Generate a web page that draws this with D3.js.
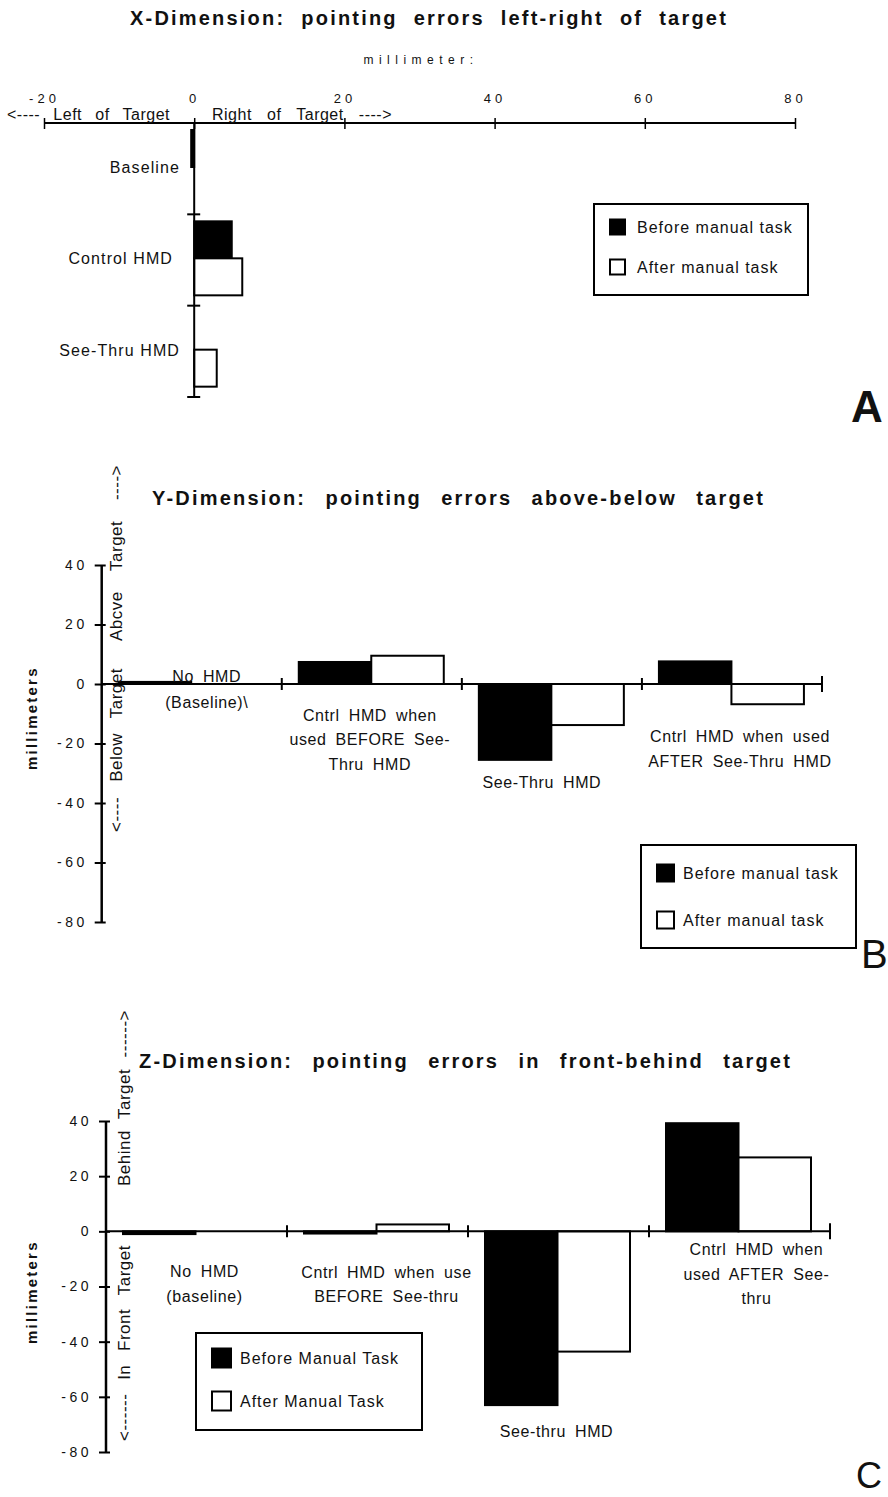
<!DOCTYPE html>
<html>
<head>
<meta charset="utf-8">
<script src="https://cdn.jsdelivr.net/npm/d3@7"></script>
<style>
  body { margin: 0; background: #fff; }
  svg text { font-family: "Liberation Sans", Arial, sans-serif; fill: #111; }
</style>
</head>
<body>
<div id="chart"></div>
<script>
// ---- data: panel A (x-dimension) ----
const xCategories = ["Baseline", "Control HMD", "See-Thru HMD"];
const xBefore = [-0.4, 5.0, 0];
const xAfter  = [0, 6.4, 3.0];
const xTicks  = [-20, 0, 20, 40, 60, 80];

// ---- data: panel B (y-dimension) ----
const yCategories = ["No HMD", "Cntrl before", "See-Thru", "Cntrl after"];
const yLabels = [
  ["No HMD", "(Baseline)\\"],
  ["Cntrl HMD when", "used BEFORE See-", "Thru HMD"],
  ["See-Thru HMD"],
  ["Cntrl HMD when used", "AFTER See-Thru HMD"]
];
const yBefore = [0.7, 7.4, -25.5, 7.6];
const yAfter  = [0, 9.5, -13.8, -6.8];

// ---- data: panel C (z-dimension) ----
const zCategories = ["No HMD", "Cntrl before", "See-thru", "Cntrl after"];
const zLabels = [
  ["No HMD", "(baseline)"],
  ["Cntrl HMD when use", "BEFORE See-thru"],
  ["See-thru HMD"],
  ["Cntrl HMD when", "used AFTER See-", "thru"]
];
const zBefore = [-1.0, -0.8, -63, 39.2];
const zAfter  = [0, 2.5, -43.6, 26.8];

const vTicks = [40, 20, 0, -20, -40, -60, -80];
const series = ["before", "after"];
const legendAB = ["Before manual task", "After manual task"];
const legendC  = ["Before Manual Task", "After Manual Task"];

const fills = { before: "#000", after: "#fff" };

const svg = d3.select("#chart").append("svg")
  .attr("width", 888).attr("height", 1497);

const fmt = d => String(d);

function rows(before, after) {
  return series.map(s => (s === "before" ? before : after));
}

// widen the gaps between words so the text spans len px
function fitWords(sel, len) {
  const n = (sel.text().match(/ /g) || []).length;
  const natural = sel.node().getComputedTextLength();
  if (n > 0 && natural < len) sel.style("word-spacing", ((len - natural) / n) + "px");
  sel.attr("textLength", len).attr("lengthAdjust", "spacing");
}

function legend(g, x, y, w, h, items, sw, rowYs, textX, fs) {
  g.append("rect").attr("x", x).attr("y", y).attr("width", w).attr("height", h)
    .attr("fill", "#fff").attr("stroke", "#000").attr("stroke-width", 2);
  items.forEach((t, i) => {
    g.append("rect").attr("x", x + 16).attr("y", rowYs[i] - sw / 2)
      .attr("width", sw).attr("height", sw)
      .attr("fill", fills[series[i]]).attr("stroke", "#000").attr("stroke-width", 2);
    g.append("text").attr("x", textX).attr("y", rowYs[i] + fs * 0.36)
      .style("font-size", fs + "px").style("letter-spacing", "1px")
      .text(t);
  });
}

function vText(g, x, y, t, len, opts = {}) {
  const txt = g.append("text")
    .attr("transform", `translate(${x},${y}) rotate(-90)`)
    .attr("text-anchor", opts.anchor || "start")
    .style("font-size", (opts.size || 17) + "px")
    .style("font-weight", opts.bold ? "bold" : "normal")
    .style("letter-spacing", opts.bold ? "2.5px" : "0.5px")
    .text(t);
  fitWords(txt, len);
}

function title(g, x, y, t, len, anchor) {
  const txt = g.append("text").attr("x", x).attr("y", y).attr("text-anchor", anchor)
    .style("font-size", "20px").style("font-weight", "bold")
    .style("letter-spacing", "2.2px")
    .text(t);
  fitWords(txt, len);
}

// ================= Panel A =================
const gA = svg.append("g");

title(gA, 429, 25, "X-Dimension: pointing errors left-right of target", 598, "middle");

gA.append("text").attr("x", 421).attr("y", 64).attr("text-anchor", "middle")
  .style("font-size", "12px").style("letter-spacing", "5.5px")
  .text("millimeter:");

const ax = d3.scaleLinear().domain([-20, 80]).range([44, 795]);
const ay = d3.scaleBand().domain(xCategories).range([123, 397]);
const ay1 = d3.scaleBand().domain(series).range([7, 81]);

const aVals = rows(xBefore, xAfter);
series.forEach((s, si) => {
  gA.append("g").selectAll("rect")
    .data(xCategories.map((c, i) => ({ c, v: aVals[si][i] })).filter(d => d.v !== 0))
    .join("rect")
    .attr("x", d => ax(Math.min(0, d.v)))
    .attr("y", d => ay(d.c) + ay1(s))
    .attr("width", d => Math.abs(ax(d.v) - ax(0)))
    .attr("height", ay1.bandwidth())
    .attr("fill", fills[s]).attr("stroke", "#000").attr("stroke-width", 2);
});

const axTop = gA.append("g").attr("transform", "translate(0,123)")
  .call(d3.axisTop(ax).tickValues(xTicks).tickFormat(fmt).tickSize(6).tickPadding(14));
axTop.select(".domain").attr("stroke-width", 2).attr("d", `M${ax(-20)},0H${ax(80)}`);
axTop.selectAll(".tick line").attr("y1", -5).attr("y2", 6).attr("stroke-width", 1.5);
axTop.selectAll(".tick text").style("font-size", "13px").style("letter-spacing", "4px")
  .style("font-family", "'Liberation Sans', Arial, sans-serif").attr("fill", "#111");

// category axis at x = 0
const axLeft = gA.append("g").attr("transform", `translate(${ax(0)},0)`)
  .call(d3.axisLeft(ay).tickSize(0).tickFormat(""));
axLeft.select(".domain").attr("stroke-width", 2).attr("d", "M0,123V397");
axLeft.selectAll(".tick").remove();
gA.append("g").selectAll("line")
  .data(xCategories.map(c => ay(c) + ay.bandwidth()))
  .join("line")
  .attr("x1", ax(0) - 7).attr("x2", ax(0) + 6)
  .attr("y1", d => d).attr("y2", d => d)
  .attr("stroke", "#000").attr("stroke-width", 2);

gA.append("g").selectAll("text").data(xCategories).join("text")
  .attr("x", (d, i) => (i === 1 ? 173 : 180)).attr("y", d => ay(d) + ay1("after") + 6)
  .attr("text-anchor", "end").style("font-size", "16px").style("letter-spacing", "1.1px")
  .text(d => d);

const leftTxt = gA.append("text").attr("x", 7).attr("y", 120)
  .style("font-size", "16px").style("letter-spacing", "0.5px").text("<---- Left of Target");
fitWords(leftTxt, 163);
const rightTxt = gA.append("text").attr("x", 212).attr("y", 120)
  .style("font-size", "16px").style("letter-spacing", "0.5px").text("Right of Target ---->");
fitWords(rightTxt, 180);

legend(gA, 594, 204, 214, 91, legendAB, 15, [227, 267], 637, 16);

gA.append("text").attr("x", 851).attr("y", 422)
  .style("font-size", "44px").style("font-weight", "bold").text("A");

// ============ shared vertical bar panel ============
function vertPanel(g, cfg) {
  const y = d3.scaleLinear().domain([-80, 40]).range([cfg.bottom, cfg.top]);
  const x = d3.scaleBand().domain(cfg.categories).range([cfg.left, cfg.right]);
  const x1 = d3.scaleBand().domain(series).range([17, 162]);

  title(g, cfg.titleX, cfg.titleY, cfg.title, cfg.titleLen, "start");

  const vals = rows(cfg.before, cfg.after);
  series.forEach((s, si) => {
    g.append("g").selectAll("rect")
      .data(cfg.categories.map((c, i) => ({ c, v: vals[si][i] })).filter(d => d.v !== 0))
      .join("rect")
      .attr("x", d => x(d.c) + x1(s))
      .attr("y", d => y(Math.max(0, d.v)))
      .attr("width", x1.bandwidth())
      .attr("height", d => Math.abs(y(d.v) - y(0)))
      .attr("fill", fills[s]).attr("stroke", "#000").attr("stroke-width", 2);
  });

  // value axis
  const ya = g.append("g").attr("transform", `translate(${cfg.left},0)`)
    .call(d3.axisLeft(y).tickValues(vTicks).tickFormat(fmt).tickSize(6).tickPadding(8));
  ya.select(".domain").attr("stroke-width", 2.5).attr("d", `M0,${cfg.top}V${cfg.bottom}`);
  ya.selectAll(".tick line").attr("x1", -7).attr("x2", 4).attr("stroke-width", 2);
  ya.selectAll(".tick text").style("font-size", "14px").style("letter-spacing", "3.5px")
    .style("font-family", "'Liberation Sans', Arial, sans-serif").attr("fill", "#111");

  // zero line with category ticks
  const xa = g.append("g").attr("transform", `translate(0,${y(0)})`)
    .call(d3.axisBottom(x).tickSize(0).tickFormat(""));
  xa.select(".domain").attr("stroke-width", 2).attr("d", `M${cfg.left},0H${cfg.right}`);
  xa.selectAll(".tick").remove();
  g.append("g").selectAll("line")
    .data(cfg.categories.map(c => x(c) + x.bandwidth()))
    .join("line")
    .attr("x1", d => d).attr("x2", d => d)
    .attr("y1", (d, i) => y(0) - (i === 3 ? 8 : 6)).attr("y2", (d, i) => y(0) + (i === 3 ? 8 : 6))
    .attr("stroke", "#000").attr("stroke-width", 2);

  // category labels
  cfg.labels.forEach((lines, i) => {
    lines.forEach((t, j) => {
      g.append("text")
        .attr("x", x(cfg.categories[i]) + x.bandwidth() / 2 + cfg.labelDx[i])
        .attr("y", cfg.labelY[i][j] + 5)
        .attr("text-anchor", "middle")
        .style("font-size", "16px").style("letter-spacing", "0.6px").style("word-spacing", "4px")
        .text(t);
    });
  });

  vText(g, 37, cfg.unitY, "millimeters", 104, { anchor: "middle", bold: true, size: 15 });
  cfg.sideTexts.forEach(s => vText(g, s.x, s.y, s.t, s.len));
  legend(g, cfg.legend.x, cfg.legend.y, cfg.legend.w, cfg.legend.h, cfg.legend.items,
    cfg.legend.sw, cfg.legend.rows, cfg.legend.tx, 16);
}

// ================= Panel B =================
vertPanel(svg.append("g"), {
  categories: yCategories, labels: yLabels, before: yBefore, after: yAfter,
  top: 565, bottom: 922, left: 101.7, right: 822,
  title: "Y-Dimension: pointing errors above-below target",
  titleX: 152, titleY: 505, titleLen: 613,
  labelDx: [15, -2, -10, 8],
  labelY: [[677, 703], [716, 740, 765], [783], [737, 762]],
  unitY: 718,
  sideTexts: [
    { x: 122, y: 641, t: "Abcve Target ---->", len: 176 },
    { x: 122, y: 832, t: "<---- Below Target", len: 164 }
  ],
  legend: { x: 641, y: 845, w: 215, h: 103, items: legendAB, sw: 17, rows: [873, 920], tx: 683 }
});
svg.append("text").attr("x", 861).attr("y", 968)
  .style("font-size", "40px").text("B");

// ================= Panel C =================
vertPanel(svg.append("g"), {
  categories: zCategories, labels: zLabels, before: zBefore, after: zAfter,
  top: 1121, bottom: 1452, left: 106, right: 830,
  title: "Z-Dimension: pointing errors in front-behind target",
  titleX: 139, titleY: 1068, titleLen: 653,
  labelDx: [8, 9, -2, 17],
  labelY: [[1272, 1297], [1273, 1297], [1432], [1250, 1275, 1299]],
  unitY: 1292,
  sideTexts: [
    { x: 130, y: 1186, t: "Behind Target ------>", len: 176 },
    { x: 130, y: 1441, t: "<------ In Front Target", len: 196 }
  ],
  legend: { x: 196, y: 1333, w: 226, h: 97, items: legendC, sw: 19, rows: [1358, 1401], tx: 240 }
});
svg.append("text").attr("x", 856).attr("y", 1488)
  .style("font-size", "36px").text("C");
</script>
</body>
</html>
